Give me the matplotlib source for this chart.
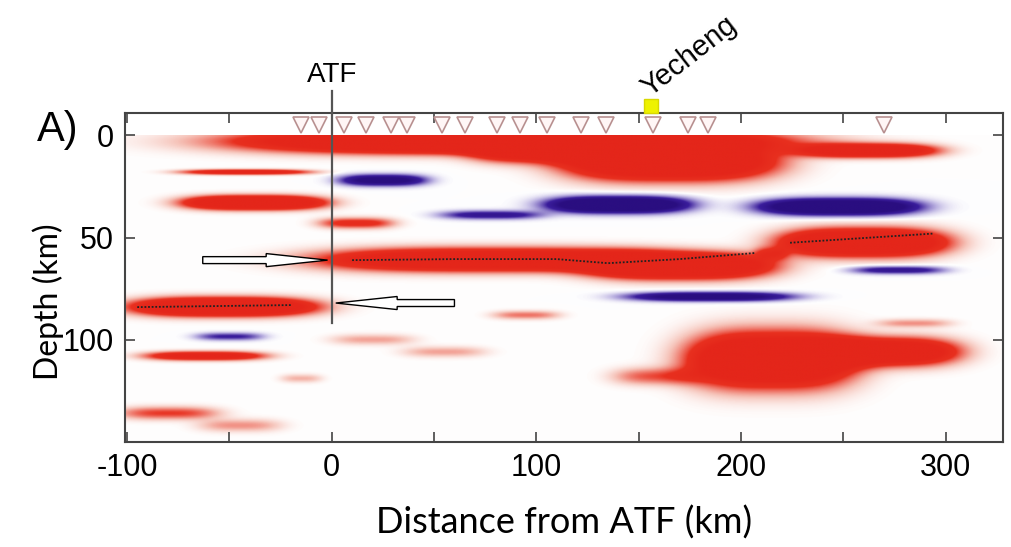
import numpy as np
import matplotlib
matplotlib.use('Agg')
import matplotlib.pyplot as plt
from matplotlib.colors import LinearSegmentedColormap

plt.rcParams['axes.unicode_minus'] = False

# stations along the profile (km from ATF)
station_x = [-15, -6, 6, 17, 29, 37, 54, 65, 81, 92, 105, 122, 134, 157, 174, 184, 270]
yecheng_x = 156

# CCP stack amplitude patches: distance, depth, half length, half thickness, amplitude
blob_x = [85, 100, 165, 262, -42, -38, 25, 12, 78, 140, 248,
          80, 170, 260, 277, 185, 95, -53, -50, -62, 20, 55, -15,
          -80, -45, 215, 270, 160, 285, 215]
blob_z = [3, 8, 13, 7.5, 18, 33, 22, 43, 39, 34, 35,
          61, 64, 52.5, 66, 79, 88, 84, 98.5, 108, 100, 106, 119,
          136, 142, 110, 106, 118, 92, 58]
blob_wx = [118, 30, 48, 32, 30, 32, 20, 18, 24, 32, 36,
           80, 42, 38, 22, 38, 16, 42, 16, 28, 20, 20, 10,
           24, 20, 38, 34, 22, 18, 8]
blob_wz = [5, 5, 8, 3, 1.2, 3, 2.5, 2.5, 2, 3.5, 3.5,
           5, 5.5, 6, 1.8, 2, 2, 4, 1.8, 2, 2.5, 2.5, 2,
           3, 3, 12, 6, 4, 2, 3]
blob_amp = [3, 1.5, 2.5, 2, 1.4, 2.5, -1.5, 0.9, -0.9, -2.4, -2.4,
            2.2, 2.5, 2.5, -0.9, -1.6, 0.5, 2.5, -0.7, 1.5, 0.35, 0.35, 0.3,
            0.7, 0.4, 2.5, 2.2, 0.6, 0.4, 0.6]

# picked Moho (dotted)
moho_w_x = [-95, -20]
moho_w_z = [84, 83]
moho_c_x = [10, 60, 110, 135, 170, 207]
moho_c_z = [61, 60.5, 60.5, 62.5, 60.5, 57.5]
moho_e_x = [224, 294]
moho_e_z = [52.5, 48]

# hollow arrows: tail, tip, depth
arrow_tail = [-63, 60]
arrow_tip = [-2, 2]
arrow_depth = [61, 82]

dist = np.arange(-101, 328.5, 0.5)
depth = np.arange(0, 150.25, 0.25)
X, Z = np.meshgrid(dist, depth)
field = np.zeros_like(X)
for xc, zc, wx, wz, a in zip(blob_x, blob_z, blob_wx, blob_wz, blob_amp):
    field += a * np.exp(-np.abs((X - xc) / wx) ** 3) * np.exp(-((Z - zc) / wz) ** 2)

cmap = LinearSegmentedColormap.from_list('rf', [
    (0, '#2a0e80'), (0.22, '#3a1d9c'), (0.4, '#b9afe0'), (0.5, '#ffffff'),
    (0.6, '#f6c4ba'), (0.8, '#e8301f'), (1, '#e4261a')])

fig = plt.figure(figsize=(10.12, 5.47), dpi=100)
ax = fig.add_axes([0.1235, 0.192, 0.8675, 0.6014])

ax.imshow(field, extent=[dist[0], dist[-1], depth[-1], depth[0]], cmap=cmap,
          vmin=-1.2, vmax=1.2, aspect='auto', interpolation='bilinear', zorder=1)

ax.set_xlim(-101, 328)
ax.set_ylim(150, -11)

# dotted Moho picks
for mx, mz in [(moho_w_x, moho_w_z), (moho_c_x, moho_c_z), (moho_e_x, moho_e_z)]:
    ax.plot(mx, mz, color='#222222', lw=1.3, ls=(0, (1, 1)), zorder=3)

# arrows
for t0, t1, d in zip(arrow_tail, arrow_tip, arrow_depth):
    ax.arrow(t0, d, t1 - t0, 0, width=3.4, head_width=6.4, head_length=30,
             length_includes_head=True, fc='white', ec='black', lw=1, zorder=4)

# ATF trace
ax.plot([0, 0], [-22, 92], color='#555555', lw=1.6, clip_on=False, zorder=4)
ax.text(0, -23, 'ATF', ha='center', va='bottom', fontsize=20,
        family='Liberation Sans')

# stations
ax.plot(station_x, [-5] * len(station_x), 'v', ms=12, mfc='#fff6f6',
        mec='#b89090', mew=1.2, ls='none', clip_on=False, zorder=5)
ax.plot([yecheng_x], [-14.5], 's', ms=10, mfc='#eef200', mec='#d8d800',
        clip_on=False, zorder=6)
ax.text(yecheng_x + 1, -16.5, 'Yecheng', rotation=38, rotation_mode='anchor',
        ha='left', va='bottom', fontsize=21, family='Liberation Sans')

ax.set_xticks([-100, 0, 100, 200, 300])
ax.set_xticks([-50, 50, 150, 250], minor=True)
ax.set_yticks([0, 50, 100])
ax.tick_params(which='both', direction='in', length=7, width=1.2, color='#444444',
               top=True, right=True, labelsize=22, pad=8)
for lab in ax.get_xticklabels() + ax.get_yticklabels():
    lab.set_family('Liberation Sans')
for s in ax.spines.values():
    s.set_color('#444444')
    s.set_linewidth(1.5)

ax.set_xlabel('Distance from ATF (km)', fontsize=26, family='Lato', labelpad=16)
ax.set_ylabel('Depth (km)', fontsize=23, family='Lato')
ax.yaxis.set_label_coords(-0.07, 0.425)
fig.text(0.036, 0.742, 'A)', fontsize=30, family='Liberation Sans')

fig.savefig('out.png', dpi=100)
